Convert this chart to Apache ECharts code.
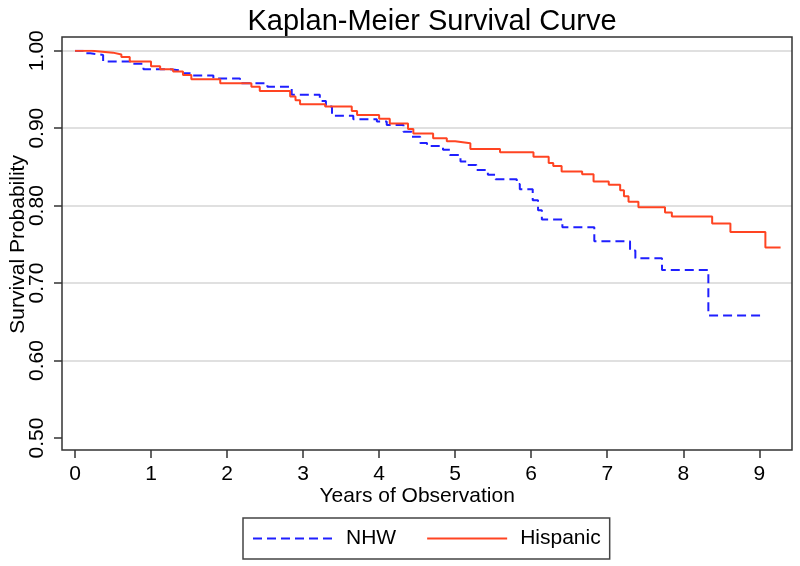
<!DOCTYPE html>
<html>
<head>
<meta charset="utf-8">
<script src="https://cdn.jsdelivr.net/npm/echarts@6/dist/echarts.min.js"></script>
<style>
html,body{margin:0;padding:0;background:#fff;}
#chart{width:800px;height:566px;}
</style>
</head>
<body>
<div id="chart"></div>
<script>
// ---- data ----
var nhwTime = [0, 0.11, 0.20, 0.37, 0.75, 0.90, 1.25, 1.42, 1.55, 1.82, 2.17, 2.53, 2.85, 3.22, 3.30, 3.38, 3.66, 3.97, 4.10, 4.32, 4.43, 4.54, 4.63, 4.84, 4.93, 5.07, 5.15, 5.28, 5.43, 5.53, 5.81, 5.85, 6.02, 6.09, 6.14, 6.41, 6.83, 7.30, 7.37, 7.72, 8.33, 9.06];
var nhwSurv = [1.000, 0.9966, 0.9945, 0.986, 0.983, 0.976, 0.974, 0.971, 0.968, 0.964, 0.958, 0.9535, 0.943, 0.935, 0.928, 0.916, 0.9115, 0.9085, 0.904, 0.8955, 0.889, 0.881, 0.877, 0.872, 0.8655, 0.857, 0.8525, 0.846, 0.840, 0.834, 0.828, 0.821, 0.807, 0.794, 0.782, 0.772, 0.754, 0.742, 0.732, 0.717, 0.658, 0.658];
var hispTime = [0, 0.22, 0.50, 0.61, 0.72, 1.00, 1.12, 1.29, 1.42, 1.53, 1.91, 2.32, 2.43, 2.83, 2.90, 2.96, 3.29, 3.64, 3.71, 4.00, 4.14, 4.38, 4.45, 4.71, 4.89, 5.00, 5.20, 5.59, 6.03, 6.23, 6.29, 6.40, 6.67, 6.82, 7.02, 7.17, 7.22, 7.28, 7.41, 7.76, 7.85, 8.38, 8.62, 9.08, 9.28];
var hispSurv = [1.000, 0.9975, 0.995, 0.992, 0.986, 0.980, 0.976, 0.973, 0.9686, 0.963, 0.958, 0.9535, 0.948, 0.941, 0.936, 0.931, 0.928, 0.922, 0.917, 0.912, 0.906, 0.899, 0.893, 0.887, 0.883, 0.8805, 0.873, 0.869, 0.863, 0.855, 0.851, 0.844, 0.8405, 0.831, 0.827, 0.820, 0.812, 0.805, 0.798, 0.791, 0.786, 0.777, 0.766, 0.746, 0.746];
var xTicks = [0, 1, 2, 3, 4, 5, 6, 7, 8, 9];
var yTicks = [0.50, 0.60, 0.70, 0.80, 0.90, 1.00];
var seriesNames = ['NHW', 'Hispanic'];
var titleText = 'Kaplan-Meier Survival Curve';
var xTitle = 'Years of Observation';
var yTitle = 'Survival Probability';

function zip(a, b) { return a.map(function (v, i) { return [v, b[i]]; }); }

// layout: x ticks span 75..759.3 for 0..9; plot frame spans x 62..792, y 37..450
var TICK_L = 75, TICK_R = 759.3, FRAME_L = 62, FRAME_R = 792, FRAME_T = 37, FRAME_B = 450;
var Y_TOP = 50.7, Y_BOT = 438;
var pxPerYear = (TICK_R - TICK_L) / (xTicks[xTicks.length - 1] - xTicks[0]);
var frameMinX = xTicks[0] - (TICK_L - FRAME_L) / pxPerYear;
var frameMaxX = xTicks[xTicks.length - 1] + (FRAME_R - TICK_R) / pxPerYear;

var FONT = '"Liberation Sans", Arial, sans-serif';
var chart = echarts.init(document.getElementById('chart'), null, {renderer: 'canvas'});
var gridColor = '#d6d6d6';
var option = {
  backgroundColor: '#ffffff',
  animation: false,
  textStyle: {fontFamily: FONT},
  title: {
    text: titleText,
    left: 427, top: 2, textAlign: 'center',
    textStyle: {fontFamily: FONT, fontSize: 29, fontWeight: 'normal', color: '#000'}
  },
  legend: {
    data: seriesNames,
    left: 243, top: 518,
    orient: 'horizontal',
    itemWidth: 80, itemHeight: 16, itemGap: 30,
    padding: [10, 9, 10, 9],
    borderColor: '#444', borderWidth: 1.5,
    itemStyle: {opacity: 0},
    textStyle: {fontFamily: FONT, fontSize: 21, color: '#000', padding: [0, 0, 0, 8]}
  },
  grid: [
    {left: FRAME_L, right: 800 - FRAME_R, top: Y_TOP, bottom: 566 - Y_BOT, containLabel: false, outerBoundsMode: 'none'},
    {left: TICK_L, right: 800 - TICK_R, top: FRAME_T, bottom: 566 - FRAME_B, containLabel: false, outerBoundsMode: 'none'}
  ],
  graphic: [{
    type: 'rect', z: 5,
    shape: {x: FRAME_L, y: FRAME_T, width: FRAME_R - FRAME_L, height: FRAME_B - FRAME_T},
    style: {fill: 'none', stroke: '#333', lineWidth: 1.5}
  }],
  xAxis: [
    {gridIndex: 0, type: 'value', min: frameMinX, max: frameMaxX, show: false, axisLine: {onZero: false}},
    {
      gridIndex: 1, type: 'value', min: xTicks[0], max: xTicks[xTicks.length - 1], interval: 1,
      position: 'bottom',
      name: xTitle, nameLocation: 'middle', nameGap: 36, nameMoveOverlap: false,
      nameTextStyle: {fontFamily: FONT, fontSize: 21, color: '#000'},
      axisLine: {show: false, onZero: false},
      axisTick: {show: true, length: 8, lineStyle: {color: '#333', width: 1.5}},
      axisLabel: {fontFamily: FONT, fontSize: 21, color: '#000', margin: 14},
      splitLine: {show: false}
    }
  ],
  yAxis: [
    {
      gridIndex: 0, type: 'value', min: yTicks[0], max: yTicks[yTicks.length - 1], interval: 0.1,
      position: 'left',
      name: yTitle, nameLocation: 'middle', nameGap: 33, nameRotate: 90, nameMoveOverlap: false,
      nameTextStyle: {fontFamily: FONT, fontSize: 21, color: '#000'},
      axisLine: {show: false, onZero: false},
      axisTick: {show: true, length: 8, lineStyle: {color: '#333', width: 1.5}},
      axisLabel: {
        fontFamily: FONT, fontSize: 21, color: '#000', rotate: 90, margin: 14,
        formatter: function (v) { return v.toFixed(2); }
      },
      splitLine: {show: true, lineStyle: {color: ['rgba(0,0,0,0)', gridColor, gridColor, gridColor, gridColor, gridColor], width: 1.5}}
    },
    {gridIndex: 1, type: 'value', min: 0, max: 1, show: false, axisLine: {onZero: false}}
  ],
  series: [
    {
      name: seriesNames[0], type: 'line', step: 'end', xAxisIndex: 0, yAxisIndex: 0,
      data: zip(nhwTime, nhwSurv), showSymbol: false, symbol: 'none',
      lineStyle: {color: '#1f1fff', width: 2, type: [9, 5]},
      itemStyle: {color: '#1f1fff'}, z: 3
    },
    {
      name: seriesNames[1], type: 'line', step: 'end', xAxisIndex: 0, yAxisIndex: 0,
      data: zip(hispTime, hispSurv), showSymbol: false, symbol: 'none',
      lineStyle: {color: '#ff4422', width: 2, type: 'solid'},
      itemStyle: {color: '#ff4422'}, z: 4
    }
  ]
};
chart.setOption(option);
</script>
</body>
</html>
